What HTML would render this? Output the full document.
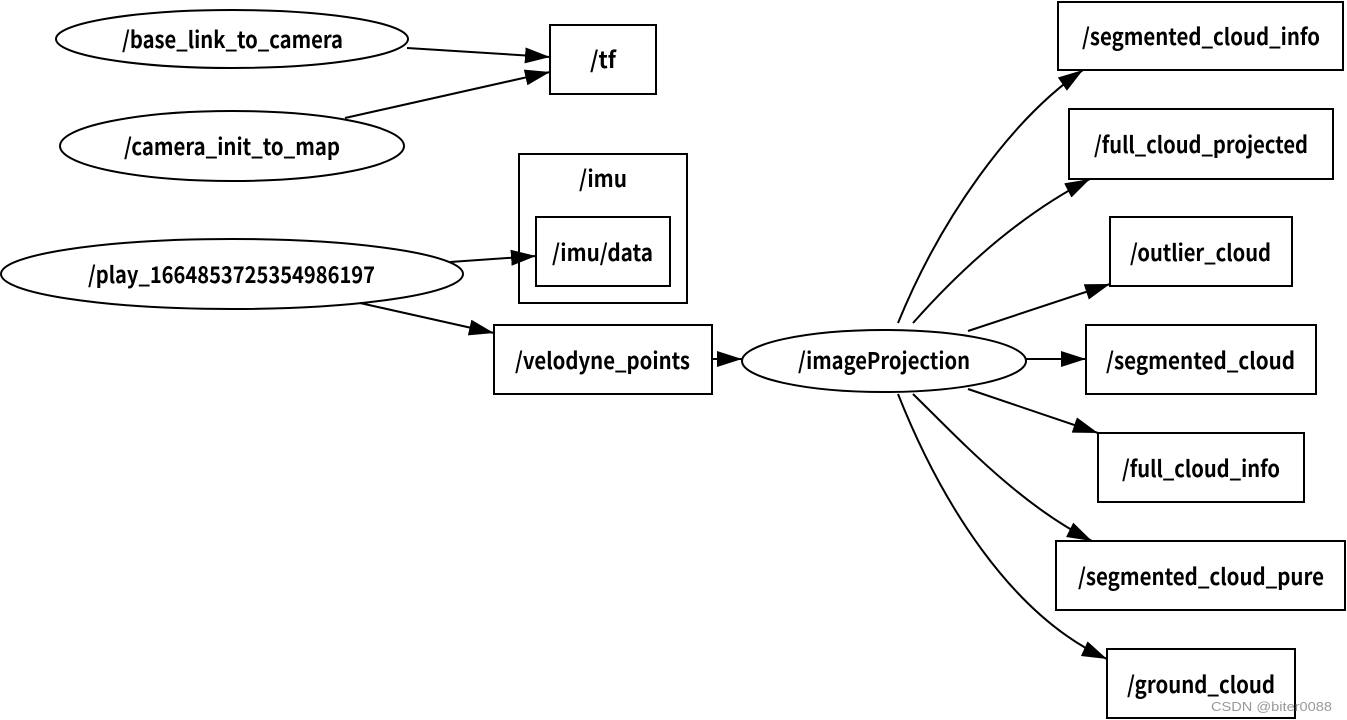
<!DOCTYPE html>
<html><head><meta charset="utf-8"><style>
html,body{margin:0;padding:0;background:#fff;}
svg{display:block;}
text{font-family:"Noto Sans CJK SC","Liberation Sans",sans-serif;font-size:23px;font-weight:700;fill:#000;}
</style></head><body>
<svg width="1347" height="720" viewBox="0 0 1347 720" xmlns="http://www.w3.org/2000/svg">
<defs>
<marker id="a" markerUnits="userSpaceOnUse" markerWidth="28" markerHeight="20" refX="25" refY="8" orient="auto">
<path d="M0,0 L25,8 L0,16 z" fill="#000"/>
</marker>
</defs>
<g fill="none" stroke="#000" stroke-width="2">
<ellipse cx="232" cy="39" rx="176" ry="29"/>
<ellipse cx="232" cy="146" rx="172" ry="35"/>
<ellipse cx="232" cy="274" rx="231" ry="35"/>
<ellipse cx="884" cy="361" rx="142" ry="31"/>
<rect x="550" y="25" width="106" height="69"/>
<rect x="519" y="154" width="168" height="149"/>
<rect x="536" y="217" width="134" height="69"/>
<rect x="494" y="325" width="218" height="69"/>
<rect x="1058" y="2" width="285" height="68"/>
<rect x="1069" y="109" width="264" height="70"/>
<rect x="1110" y="217" width="182" height="69"/>
<rect x="1086" y="325" width="230" height="69"/>
<rect x="1098" y="433" width="206" height="69"/>
<rect x="1056" y="541" width="289" height="69"/>
<rect x="1107" y="649" width="188" height="69"/>
</g>
<g fill="none" stroke="#000" stroke-width="2" marker-end="url(#a)">
<path d="M407,48 L550,57"/>
<path d="M345,118 L550,72"/>
<path d="M450,262 L536,256"/>
<path d="M360,303 L494,333"/>
<path d="M712,359 L742,359"/>
<path d="M898,323 C940,220 1010,120 1083,70"/>
<path d="M913,323 C960,270 1020,215 1090,179"/>
<path d="M968,331 L1110,284"/>
<path d="M1026,359 L1086,359"/>
<path d="M968,389 L1098,433"/>
<path d="M913,394 C960,440 1020,505 1092,541"/>
<path d="M898,394 C940,500 1010,615 1107,659"/>
</g>
<g>
<text x="122" y="48" textLength="221" lengthAdjust="spacingAndGlyphs">/base_link_to_camera</text>
<text x="124" y="155" textLength="216" lengthAdjust="spacingAndGlyphs">/camera_init_to_map</text>
<text x="88" y="283" textLength="287" lengthAdjust="spacingAndGlyphs">/play_1664853725354986197</text>
<text x="590" y="68" textLength="26" lengthAdjust="spacingAndGlyphs">/tf</text>
<text x="579" y="187" textLength="48" lengthAdjust="spacingAndGlyphs">/imu</text>
<text x="552" y="261" textLength="101" lengthAdjust="spacingAndGlyphs">/imu/data</text>
<text x="515" y="369" textLength="175" lengthAdjust="spacingAndGlyphs">/velodyne_points</text>
<text x="798" y="369" textLength="172" lengthAdjust="spacingAndGlyphs">/imageProjection</text>
<text x="1082" y="45" textLength="238" lengthAdjust="spacingAndGlyphs">/segmented_cloud_info</text>
<text x="1094" y="153" textLength="214" lengthAdjust="spacingAndGlyphs">/full_cloud_projected</text>
<text x="1130" y="261" textLength="141" lengthAdjust="spacingAndGlyphs">/outlier_cloud</text>
<text x="1106" y="369" textLength="189" lengthAdjust="spacingAndGlyphs">/segmented_cloud</text>
<text x="1122" y="477" textLength="158" lengthAdjust="spacingAndGlyphs">/full_cloud_info</text>
<text x="1078" y="585" textLength="246" lengthAdjust="spacingAndGlyphs">/segmented_cloud_pure</text>
<text x="1127" y="693" textLength="148" lengthAdjust="spacingAndGlyphs">/ground_cloud</text>
</g>
<text x="1211" y="711" style="font-family:'Liberation Sans',sans-serif;font-weight:normal;font-size:13px;fill:#999" textLength="121" lengthAdjust="spacingAndGlyphs">CSDN @biter0088</text>
</svg>
</body></html>
